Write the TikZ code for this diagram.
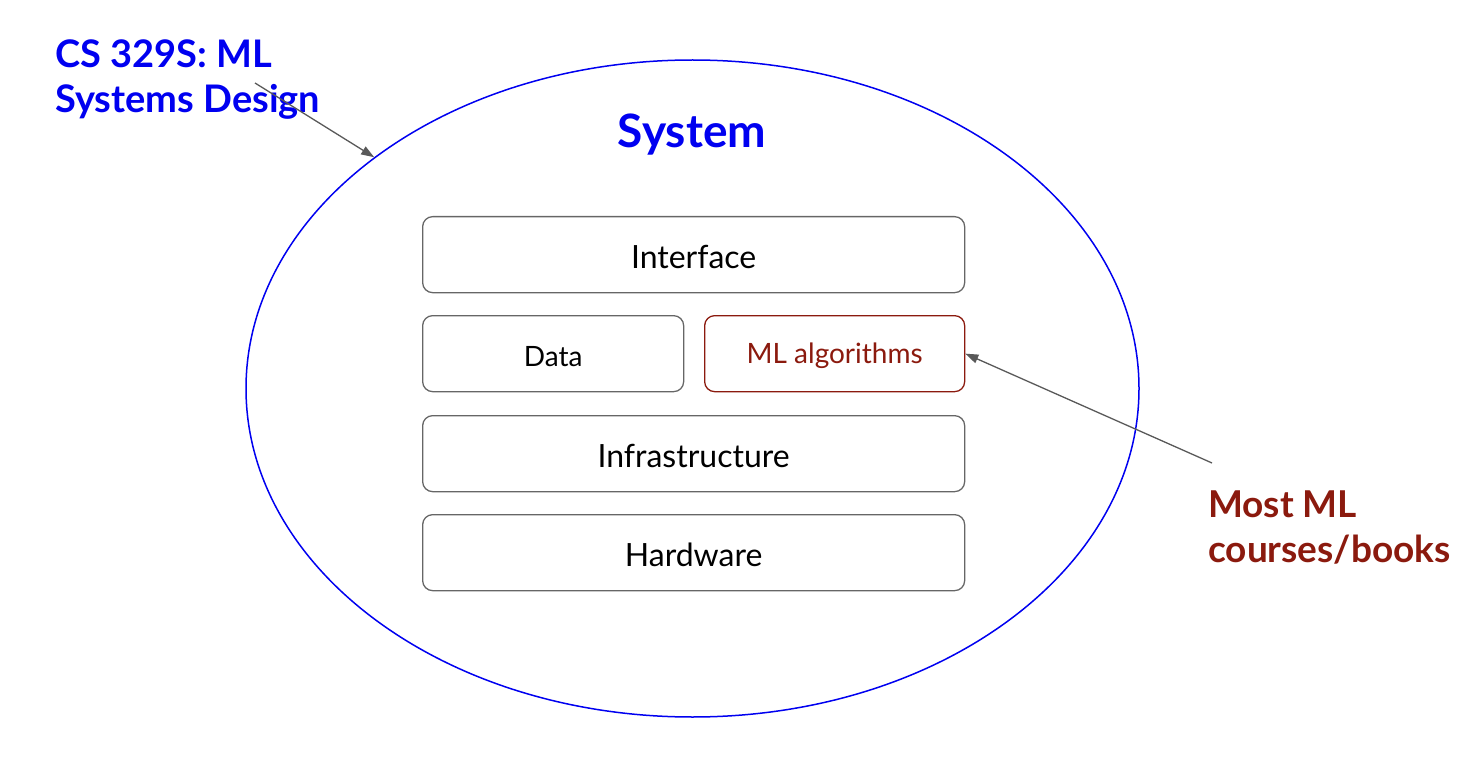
\documentclass[tikz,border=0pt]{standalone}
\usepackage{fontspec}
\setmainfont{Lato}
\usetikzlibrary{arrows.meta,shapes.geometric}
\definecolor{sysblue}{HTML}{0000F0}
\definecolor{dred}{HTML}{8B1A0E}
\definecolor{boxgray}{HTML}{666666}
\definecolor{arrgray}{HTML}{595959}
\tikzset{
  layer/.style={draw=boxgray, line width=1.3pt, rounded corners=10pt, anchor=north west, inner sep=0pt},
  conn/.style={draw=arrgray, line width=1.3pt, -{Triangle[length=13pt,width=9pt]}},
  bigtxt/.style={font=\fontsize{32}{38}\selectfont, yshift=-2pt},
  smalltxt/.style={font=\fontsize{28}{34}\selectfont, yshift=-2.5pt},
  note/.style={font=\fontsize{38}{45}\selectfont\bfseries, align=left, anchor=north west, inner sep=0pt},
}
\begin{document}
\begin{tikzpicture}[x=1pt,y=-1pt]
\useasboundingbox (0,0) rectangle (1470,762);
\node[draw=sysblue, line width=1.5pt, ellipse, minimum width=893pt, minimum height=657pt, inner sep=0pt] (sys) at (692.5,388.5) {};
\node[text=sysblue, font=\fontsize{46}{54}\selectfont\bfseries] (systitle) at (692,135) {System};
\node[layer, minimum width=542pt, minimum height=76pt] (iface) at (422,216) {};
\node[bigtxt] (ifacet) at (iface.center) {Interface};
\node[layer, minimum width=261pt, minimum height=76pt] (data) at (422,315) {};
\node[smalltxt] (datat) at (data.center) {Data};
\node[layer, draw=dred, minimum width=260pt, minimum height=76pt] (mlalg) at (704,315) {};
\node[smalltxt, text=dred] (mlalgt) at (mlalg.center) {ML algorithms};
\node[layer, minimum width=542pt, minimum height=76pt] (infra) at (422,415) {};
\node[bigtxt] (infrat) at (infra.center) {Infrastructure};
\node[layer, minimum width=542pt, minimum height=76pt] (hw) at (422,514) {};
\node[bigtxt] (hwt) at (hw.center) {Hardware};
\node[note, text=sysblue] (course) at (55,40) {CS 329S: ML\\Systems Design};
\node[note, text=dred, font=\fontsize{37}{45}\selectfont\bfseries] (most) at (1208,491) {Most ML\\courses/books};
\coordinate (a1s) at (255,83);
\coordinate (a2s) at (1212,463);
\draw[conn] (a1s) -- (sys.144);
\draw[conn] (a2s) -- (mlalg.east);
\end{tikzpicture}
\end{document}
